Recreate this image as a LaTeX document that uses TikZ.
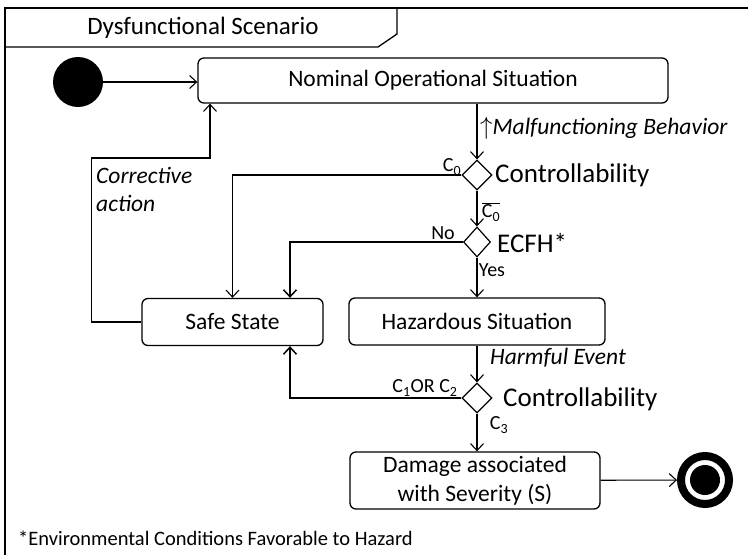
\documentclass[tikz,border=0pt]{standalone}
\usepackage{fontspec}
\setmainfont{Carlito}
\usetikzlibrary{arrows.meta, positioning, shapes.geometric}

\begin{document}
\begin{tikzpicture}[x=1pt, y=-1pt,
  state/.style={rectangle, rounded corners=6pt, draw, line width=1.3pt, align=center,
                font=\fontsize{23.5}{29}\selectfont, inner sep=0pt},
  choice/.style={diamond, draw, line width=1.2pt, minimum width=30pt, minimum height=30pt,
                 inner sep=0pt},
  cond/.style={font=\fontsize{27}{30}\selectfont, inner sep=0pt},
  guard/.style={font=\fontsize{20}{22}\selectfont, inner sep=0pt},
  evt/.style={font=\fontsize{23.5}{28}\selectfont\itshape, inner sep=0pt},
  arr/.style={-{Straight Barb[length=7pt, width=13pt]}, line width=1.1pt}
]
\useasboundingbox (0,0) rectangle (748,555);

% frame and title tab
\draw[line width=2.2pt] (748,8) -- (5,8) -- (5,555);
\draw[line width=1.3pt] (5,47) -- (378,47) -- (397,34) -- (397,8);
\node[font=\fontsize{25}{30}\selectfont] (title) at (203,28) {Dysfunctional Scenario};

% states
\node[circle, fill, minimum size=50pt, inner sep=0pt] (init) at (78,82) {};
\node[state, minimum width=470pt, minimum height=45pt] (nominal) at (433,80.5) {Nominal Operational Situation};
\node[state, minimum width=181pt, minimum height=47pt] (safe) at (232.5,322) {Safe State};
\node[state, minimum width=256pt, minimum height=47pt] (hazard) at (477,321.5) {Hazardous Situation};
\node[state, minimum width=250pt, minimum height=57pt] (damage) at (475,480.5) {Damage associated\\with Severity (S)};
\node[circle, draw, line width=8pt, minimum size=48pt, inner sep=0pt] (final) at (705,480) {};
\node[circle, fill, minimum size=30pt, inner sep=0pt] (finaldot) at (final) {};

% decisions
\node[choice] (ctrlA) at (477,175) {};
\node[choice, minimum width=27pt] (ecfh) at (477,242) {};
\node[choice] (ctrlB) at (477,398) {};
\node[cond, anchor=west] (ctrlAlbl) at (495,175) {Controllability};
\node[cond, anchor=west] (ecfhlbl) at (497,243) {ECFH*};
\node[cond, anchor=west] (ctrlBlbl) at (503,399) {Controllability};

% transitions
\draw[arr] (init) -- (nominal.west |- init);
\draw[arr] (nominal.south -| ctrlA) -- (ctrlA.north);
\draw[arr] (ctrlA) -- (ecfh);
\draw[arr] (ecfh) -- (hazard);
\draw[arr] (hazard) -- (ctrlB);
\draw[arr] (ctrlB.south) -- (ctrlB.south |- damage.north);
\draw[arr] (damage) -- (final);
\draw[arr] (ctrlA.west) -| (safe.north);
\draw[arr, line width=1.5pt] (ecfh.west) -| ([xshift=57.5pt]safe.north);
\draw[arr, line width=1.5pt] (ctrlB.west) -| ([xshift=57.5pt]safe.south);
\draw[arr] (safe.west) -- ++(-50,0) -- ++(0,-164) -| ([xshift=-223pt]nominal.south);

% transition labels
\node[evt, anchor=west] (malf) at (480,128) {$\uparrow$Malfunctioning Behavior};
\node[guard] (c0) at (452,167) {C\textsubscript{0}};
\node[guard] (c0not) at (491,212) {$\overline{\mbox{C\textsubscript{0}}}$};
\node[guard] (no) at (443,233) {No};
\node[guard] (yes) at (492,270) {Yes};
\node[evt, anchor=west] (harm) at (490,358) {Harmful Event};
\node[guard] (c12) at (425,388) {C\textsubscript{1}OR C\textsubscript{2}};
\node[guard] (c3) at (499,425) {C\textsubscript{3}};
\node[evt, anchor=north west, align=left] (corr) at (96,167) {Corrective\\action};

\node[font=\fontsize{20.5}{24}\selectfont, anchor=west, inner sep=0pt] (note) at (18,538)
  {*Environmental Conditions Favorable to Hazard};
\end{tikzpicture}
\end{document}
